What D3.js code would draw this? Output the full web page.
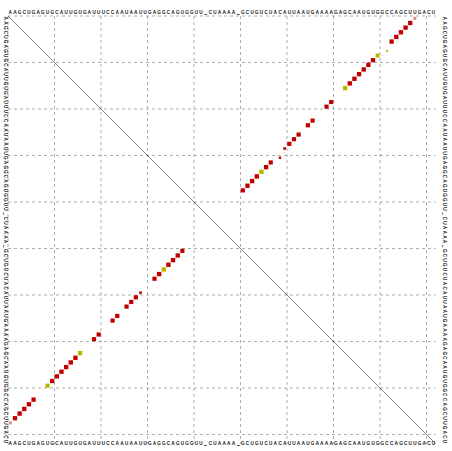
<!DOCTYPE html>
<html>
<head>
<meta charset="utf-8">
<script src="https://cdnjs.cloudflare.com/ajax/libs/d3/7.8.5/d3.min.js"></script>
<style>
  body { margin: 0; background: white; }
  .seq { font-family: "Liberation Sans", Arial, sans-serif; font-size: 4.5px; fill: black; stroke: black; stroke-width: 0.15px; }
</style>
</head>
<body>
<script>

// consensus sequence of the alignment
var sequence = "AAGCUGAGUGCAUUGUGAUUUCCAAUAAUUGAGGCAGUGGUU_CUAAAA_GCUGUCUACAUUAAUGAAAAGAGCAAUGUGGCCAGCUUGACU";

// upper triangle: pair probabilities (i, j, p, color class)
var upperI = [1, 2, 3, 4, 5, 6, 8, 9, 9, 10, 11, 12, 13, 14, 15, 16, 19, 20, 23, 24, 26, 27, 28, 29, 30, 31, 32, 33, 34, 35, 36, 37, 38, 41];
var upperJ = [88, 87, 86, 85, 84, 83, 82, 81, 80, 79, 78, 77, 76, 75, 74, 73, 70, 69, 66, 65, 63, 62, 61, 60, 60, 59, 57, 56, 55, 54, 53, 52, 51, 47];
var upperP = [0.45, 0.95, 0.97, 0.97, 0.97, 0.95, 0.2, 0.04, 0.85, 0.95, 0.97, 0.97, 0.97, 0.97, 0.97, 0.95, 0.9, 0.9, 0.9, 0.9, 0.9, 0.9, 0.9, 0.35, 0.05, 0.3, 0.9, 0.97, 0.97, 0.97, 0.97, 0.95, 0.9, 0.02];
var upperC = ["pink", "red", "red", "red", "red", "red", "olive", "pink", "olive", "red", "red", "red", "red", "red", "red", "olive", "red", "red", "red", "red", "red", "red", "red", "red", "pink", "red", "red", "red", "olive", "red", "red", "red", "red", "pink"];

// lower triangle: mfe structure
var lowerI = [1, 2, 3, 4, 5, 6, 9, 10, 11, 12, 13, 14, 15, 16, 19, 20, 23, 24, 26, 27, 28, 29, 32, 33, 34, 35, 36, 37, 38];
var lowerJ = [88, 87, 86, 85, 84, 83, 80, 79, 78, 77, 76, 75, 74, 73, 70, 69, 66, 65, 63, 62, 61, 60, 57, 56, 55, 54, 53, 52, 51];
var lowerP = [0.45, 0.95, 0.97, 0.97, 0.97, 0.95, 0.85, 0.95, 0.97, 0.97, 0.97, 0.97, 0.97, 0.95, 0.9, 0.9, 0.9, 0.9, 0.9, 0.9, 0.9, 0.35, 0.9, 0.97, 0.97, 0.97, 0.97, 0.95, 0.9];
var lowerC = ["pink", "red", "red", "red", "red", "red", "olive", "red", "red", "red", "red", "red", "red", "olive", "red", "red", "red", "red", "red", "red", "red", "red", "red", "red", "olive", "red", "red", "red", "red"];

var colors = {red: "#c20000", olive: "#bdb600", pink: "#e58a8a"};

var w = 452;
var h = 451;
var n = sequence.length;
var cell = 4.65;
var x0 = 8;
var y0 = 16;

var svg = d3.select("body")
            .append("svg")
            .attr("width", w)
            .attr("height", h);

// base index -> pixel
var xScale = d3.scaleLinear()
               .domain([0.5, n + 0.5])
               .range([x0, x0 + n * cell]);

var yScale = d3.scaleLinear()
               .domain([0.5, n + 0.5])
               .range([y0, y0 + n * cell]);

// grid every 10 bases
var gridTicks = d3.range(0, n, 10).map(function(d) { return d + 0.5; });

svg.selectAll(".vgrid")
   .data(gridTicks)
   .enter().append("line")
   .attr("x1", function(d) { return xScale(d); })
   .attr("x2", function(d) { return xScale(d); })
   .attr("y1", yScale(0.5))
   .attr("y2", yScale(n + 0.5))
   .attr("stroke", "#999")
   .attr("stroke-width", 0.8)
   .attr("stroke-dasharray", "3,3");

svg.selectAll(".hgrid")
   .data(gridTicks)
   .enter().append("line")
   .attr("y1", function(d) { return yScale(d); })
   .attr("y2", function(d) { return yScale(d); })
   .attr("x1", xScale(0.5))
   .attr("x2", xScale(n + 0.5))
   .attr("stroke", "#999")
   .attr("stroke-width", 0.8)
   .attr("stroke-dasharray", "3,3");

// diagonal
svg.append("line")
   .attr("x1", xScale(0.5))
   .attr("y1", yScale(0.5))
   .attr("x2", xScale(n + 0.5))
   .attr("y2", yScale(n + 0.5))
   .attr("stroke", "#333")
   .attr("stroke-width", 0.6);

var bases = sequence.split("");

// sequence along top and bottom
[yScale(0.5) - 2, yScale(n + 0.5) + 1.5].forEach(function(yy) {
  svg.selectAll(null)
     .data(bases)
     .enter().append("text")
     .attr("class", "seq")
     .attr("x", function(d, i) { return xScale(i + 1); })
     .attr("y", yy)
     .attr("text-anchor", "middle")
     .text(function(d) { return d; });
});

// sequence along left and right, rotated
[xScale(0.5) - 5.5, xScale(n + 0.5) + 6].forEach(function(xx) {
  svg.selectAll(null)
     .data(bases)
     .enter().append("text")
     .attr("class", "seq")
     .attr("text-anchor", "middle")
     .attr("transform", function(d, i) {
       return "translate(" + (xx + 1.5) + "," + yScale(i + 1) + ") rotate(90)";
     })
     .text(function(d) { return d; });
});

function drawBoxes(iArr, jArr, pArr, cArr, upper) {
  var data = iArr.map(function(d, k) {
    return {i: d, j: jArr[k], p: pArr[k], c: cArr[k]};
  });
  svg.selectAll(null)
     .data(data)
     .enter().append("rect")
     .attr("x", function(d) {
       var side = Math.sqrt(d.p) * cell * 0.95;
       return (upper ? xScale(d.j) : xScale(d.i)) - side / 2;
     })
     .attr("y", function(d) {
       var side = Math.sqrt(d.p) * cell * 0.95;
       return (upper ? yScale(d.i) : yScale(d.j)) - side / 2;
     })
     .attr("width", function(d) { return Math.sqrt(d.p) * cell * 0.95; })
     .attr("height", function(d) { return Math.sqrt(d.p) * cell * 0.95; })
     .style("fill", function(d) { return colors[d.c]; });
}

drawBoxes(upperI, upperJ, upperP, upperC, true);
drawBoxes(lowerI, lowerJ, lowerP, lowerC, false);

</script>
</body>
</html>
